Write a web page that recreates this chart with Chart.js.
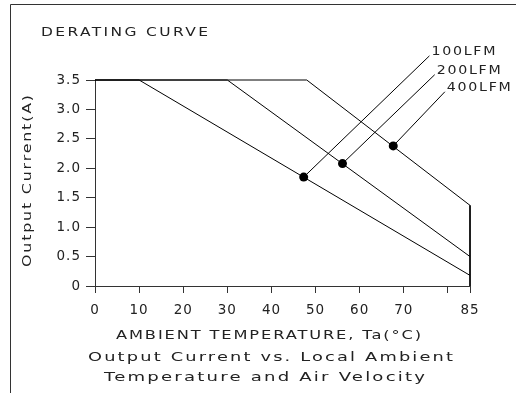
<!DOCTYPE html>
<html><head><meta charset="utf-8">
<script src="https://cdn.jsdelivr.net/npm/chart.js@4"></script>
<style>html,body{margin:0;padding:0;background:#fff}</style>
</head><body>
<canvas id="c" width="516" height="393" style="display:block;width:516px;height:393px"></canvas>
<script>
// ---- data ----
const seriesNames = ['100LFM', '200LFM', '400LFM'];
const curve100 = [[0, 3.5], [10, 3.5], [85, 0.18]];
const curve200 = [[0, 3.5], [30, 3.5], [85, 0.5]];
const curve400 = [[0, 3.5], [48, 3.5], [85, 1.37], [85, 0]];
const markerPoints = [[47.3, 1.85], [56.1, 2.08], [67.6, 2.38]];
const leaderEnds = [[75.8, 3.91], [77.0, 3.59], [79.3, 3.30]];
const xTickValues = [0, 10, 20, 30, 40, 50, 60, 70, 80, 85];
const xTickUnlabelled = [80];
const yTickValues = [0, 0.5, 1.0, 1.5, 2.0, 2.5, 3.0, 3.5];
const chartTitle = 'DERATING CURVE';
const xTitle = 'AMBIENT TEMPERATURE, Ta(°C)';
const yTitle = 'Output Current(A)';
const captionLines = ['Output Current vs. Local Ambient', 'Temperature and Air Velocity'];

const FONT = '"DejaVu Sans", sans-serif';
const TXT = '#222';
const toXY = a => a.map(p => ({x: p[0], y: p[1]}));

const lineDs = (data) => ({
  type: 'line', data: toXY(data), borderColor: '#000', borderWidth: 1,
  pointRadius: 0, fill: false, tension: 0, clip: false
});

const datasets = [
  lineDs(curve100), lineDs(curve200), lineDs(curve400),
  ...markerPoints.map((p, i) => lineDs([p, leaderEnds[i]])),
  { type: 'scatter', data: toXY(markerPoints), pointRadius: 4.5, pointHoverRadius: 4.5,
    backgroundColor: '#000', borderColor: '#000', borderWidth: 0, clip: false }
];

// draw text stretched horizontally to span x0..x1, caps centred on cy
function drawFit(ctx, text, x0, x1, cy, cap, spacing) {
  const size = cap / 0.729;
  ctx.save();
  ctx.font = size + 'px ' + FONT;
  ctx.letterSpacing = spacing + 'px';
  ctx.textAlign = 'left';
  ctx.textBaseline = 'alphabetic';
  const w = ctx.measureText(text).width - spacing;
  const sx = (x1 - x0) / w;
  ctx.translate(x0, cy + cap / 2);
  ctx.scale(sx, 1);
  ctx.fillText(text, 0, 0);
  ctx.restore();
}

const textPlugin = {
  id: 'texts',
  beforeDraw(chart) {
    chart.ctx.letterSpacing = '1px';
  },
  afterDraw(chart) {
    const ctx = chart.ctx;
    const xs = chart.scales.x, ys = chart.scales.y;
    ctx.save();
    // frame
    ctx.strokeStyle = '#333'; ctx.lineWidth = 1;
    ctx.beginPath();
    ctx.moveTo(10.5, 393); ctx.lineTo(10.5, 4.5); ctx.lineTo(516, 4.5);
    ctx.stroke();
    ctx.fillStyle = TXT;
    // title
    drawFit(ctx, chartTitle, 41, 208, 30.8, 9.5, 2);
    // series labels at leader ends
    seriesNames.forEach((n, i) => {
      const px = xs.getPixelForValue(leaderEnds[i][0]);
      const py = ys.getPixelForValue(leaderEnds[i][1]);
      drawFit(ctx, n, px + 2, px + 66, py - 5, 9, 1.5);
    });
    // x title and caption
    drawFit(ctx, xTitle, 116, 421, 334.5, 9.5, 1.5);
    drawFit(ctx, captionLines[0], 88, 453, 356.7, 9, 1.5);
    drawFit(ctx, captionLines[1], 104, 425, 376.7, 9, 1.5);
    // y title (rotated)
    ctx.save();
    ctx.translate(26, 267);
    ctx.rotate(-Math.PI / 2);
    drawFit(ctx, yTitle, 0, 172, 0, 9.5, 1.5);
    ctx.restore();
    ctx.restore();
  }
};

new Chart(document.getElementById('c'), {
  data: { datasets },
  options: {
    responsive: false, animation: false, devicePixelRatio: 1,
    layout: { padding: { top: 80, right: 46, left: 0, bottom: 0 } },
    plugins: { legend: { display: false }, tooltip: { enabled: false } },
    events: [],
    scales: {
      x: {
        type: 'linear', min: 0, max: 85,
        afterFit: s => { s.height = 107; },
        afterBuildTicks: s => { s.ticks = xTickValues.map(v => ({ value: v })); },
        ticks: {
          autoSkip: false, maxRotation: 0, padding: 9,
          color: TXT, font: { family: FONT, size: 13.5 },
          callback: v => xTickUnlabelled.includes(v) ? '' : String(v)
        },
        grid: { drawOnChartArea: false, drawTicks: true, tickLength: 7, color: '#333' },
        border: { display: true, color: '#333', width: 1 }
      },
      y: {
        type: 'linear', min: 0, max: 3.5,
        afterFit: s => { s.width = 95; },
        afterBuildTicks: s => { s.ticks = yTickValues.map(v => ({ value: v })); },
        ticks: {
          autoSkip: false, padding: 5, color: TXT, font: { family: FONT, size: 13.5 },
          callback: v => v === 0 ? '0' : v.toFixed(1)
        },
        grid: { drawOnChartArea: false, drawTicks: true, tickLength: 9, color: '#333' },
        border: { display: true, color: '#333', width: 1 }
      }
    }
  },
  plugins: [textPlugin]
});
</script>
</body></html>
